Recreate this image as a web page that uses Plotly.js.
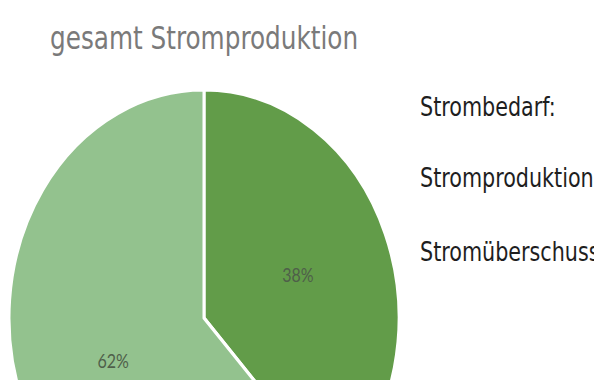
<!DOCTYPE html>
<html>
<head>
<meta charset="utf-8">
<script src="https://cdn.plot.ly/plotly-3.0.1.min.js"></script>
<style>
html,body{margin:0;padding:0;overflow:hidden;background:#fff;width:594px;height:380px;}
#wrap{position:absolute;left:0;top:0;width:594px;height:500px;transform:scaleY(1.17);transform-origin:0 0;}
#chart{width:594px;height:500px;}
</style>
</head>
<body>
<div id="wrap"><div id="chart"></div></div>
<script>
// Data
const labels = ["Stromüberschuss", "Strombedarf"];
const values = [38, 62];
const colors = ["#629C49", "#93C28E"];
const title = "gesamt Stromproduktion";
const sideTexts = ["Strombedarf:", "Stromproduktion", "Stromüberschuss"];

const W = 594, H = 500;
const trace = {
  type: "pie",
  labels: labels,
  values: values,
  sort: false,
  direction: "clockwise",
  rotation: 0,
  marker: {colors: colors, line: {color: "#ffffff", width: 3}},
  textinfo: "percent",
  texttemplate: "%{percent:.0%}",
  textposition: "inside",
  insidetextorientation: "horizontal",
  textfont: {family: "Lato, 'Open Sans', sans-serif", size: 16, color: "#4f5f4a"},
  hoverinfo: "none",
  showlegend: false,
  domain: {x: [9 / W, 399 / W], y: [(H - 466.8) / H, (H - 76.8) / H]}
};

const annotations = sideTexts.map((t, i) => ({
  text: t,
  xref: "paper", yref: "paper",
  x: 418 / W, y: 1 - (90.5 + i * 62) / H,
  xanchor: "left", yanchor: "middle",
  showarrow: false,
  font: {family: "'DejaVu Sans Condensed', 'Liberation Sans Narrow', sans-serif", size: 23, color: "#1e1e1e"}
}));

const layout = {
  width: W, height: H,
  margin: {l: 0, r: 0, t: 0, b: 0},
  paper_bgcolor: "#ffffff",
  title: {
    text: title,
    x: 50 / W, xanchor: "left",
    y: 1 - 32.3 / H, yanchor: "middle",
    font: {family: "'Liberation Sans Narrow', 'DejaVu Sans Condensed', sans-serif", size: 27.5, color: "#7a7a7a"}
  },
  annotations: annotations
};

Plotly.newPlot("chart", [trace], layout, {displayModeBar: false, staticPlot: true});
</script>
</body>
</html>
